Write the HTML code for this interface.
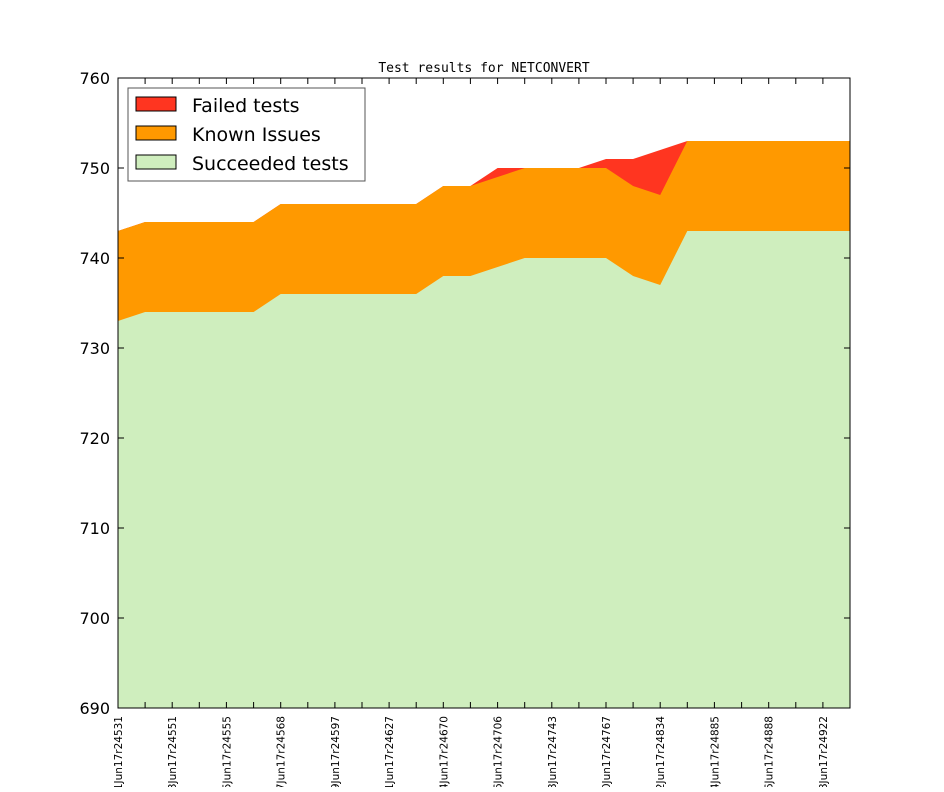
<!DOCTYPE html><html><head><style>body{margin:0;background:#fff}</style></head><body>
<svg width="944" height="787" xmlns="http://www.w3.org/2000/svg" font-family="DejaVu Sans, Liberation Sans, sans-serif">
<rect width="944" height="787" fill="#fff"/>
<polygon fill="#ff3520" points="118,645 118,231 145.1,222 172.2,222 199.3,222 226.4,222 253.6,222 280.7,204 307.8,204 334.9,204 362,204 389.1,204 416.2,204 443.3,186 470.4,186 497.6,168 524.7,168 551.8,168 578.9,168 606,159 633.1,159 660.2,150 687.3,141 850,141 850,708 118,708"/>
<polygon fill="#ff9900" points="118,231 145.1,222 172.2,222 199.3,222 226.4,222 253.6,222 280.7,204 307.8,204 334.9,204 362,204 389.1,204 416.2,204 443.3,186 470.4,186 497.6,177 524.7,168 551.8,168 578.9,168 606,168 633.1,186 660.2,195 687.3,141 850,141 850,708 118,708"/>
<polygon fill="#cfeebe" points="118,321 145.1,312 172.2,312 199.3,312 226.4,312 253.6,312 280.7,294 307.8,294 334.9,294 362,294 389.1,294 416.2,294 443.3,276 470.4,276 497.6,267 524.7,258 551.8,258 578.9,258 606,258 633.1,276 660.2,285 687.3,231 850,231 850,708 118,708"/>
<rect x="118" y="78" width="732" height="630" fill="none" stroke="#000" stroke-width="1"/>
<g stroke="#000" stroke-width="1">
<path d="M118,168h6M118,258h6M118,348h6M118,438h6M118,528h6M118,618h6M850,168h-6M850,258h-6M850,348h-6M850,438h-6M850,528h-6M850,618h-6"/>
<path d="M145.1,708v-6M172.2,708v-6M199.3,708v-6M226.4,708v-6M253.6,708v-6M280.7,708v-6M307.8,708v-6M334.9,708v-6M362,708v-6M389.1,708v-6M416.2,708v-6M443.3,708v-6M470.4,708v-6M497.6,708v-6M524.7,708v-6M551.8,708v-6M578.9,708v-6M606,708v-6M633.1,708v-6M660.2,708v-6M687.3,708v-6M714.4,708v-6M741.6,708v-6M768.7,708v-6M795.8,708v-6M822.9,708v-6M145.1,78v6M172.2,78v6M199.3,78v6M226.4,78v6M253.6,78v6M280.7,78v6M307.8,78v6M334.9,78v6M362,78v6M389.1,78v6M416.2,78v6M443.3,78v6M470.4,78v6M497.6,78v6M524.7,78v6M551.8,78v6M578.9,78v6M606,78v6M633.1,78v6M660.2,78v6M687.3,78v6M714.4,78v6M741.6,78v6M768.7,78v6M795.8,78v6M822.9,78v6"/>
</g>
<g font-size="16" text-anchor="end" fill="#000">
<text x="110" y="84">760</text><text x="110" y="174">750</text><text x="110" y="264">740</text><text x="110" y="354">730</text><text x="110" y="444">720</text><text x="110" y="534">710</text><text x="110" y="624">700</text><text x="110" y="714">690</text>
</g>
<text x="484" y="72" font-family="DejaVu Sans Mono, Liberation Mono, monospace" font-size="13" text-anchor="middle">Test results for NETCONVERT</text>
<g font-size="10.5" text-anchor="end">
<text transform="translate(122,716) rotate(-90)">01Jun17r24531</text>
<text transform="translate(176.2,716) rotate(-90)">03Jun17r24551</text>
<text transform="translate(230.4,716) rotate(-90)">05Jun17r24555</text>
<text transform="translate(284.7,716) rotate(-90)">07Jun17r24568</text>
<text transform="translate(338.9,716) rotate(-90)">09Jun17r24597</text>
<text transform="translate(393.1,716) rotate(-90)">11Jun17r24627</text>
<text transform="translate(447.3,716) rotate(-90)">14Jun17r24670</text>
<text transform="translate(501.6,716) rotate(-90)">16Jun17r24706</text>
<text transform="translate(555.8,716) rotate(-90)">18Jun17r24743</text>
<text transform="translate(610,716) rotate(-90)">20Jun17r24767</text>
<text transform="translate(664.2,716) rotate(-90)">22Jun17r24834</text>
<text transform="translate(718.5,716) rotate(-90)">24Jun17r24885</text>
<text transform="translate(772.7,716) rotate(-90)">26Jun17r24888</text>
<text transform="translate(826.9,716) rotate(-90)">28Jun17r24922</text>
</g>
<rect x="128" y="88" width="237" height="93" fill="#fff" stroke="#555"/>
<rect x="136" y="97" width="40" height="14" fill="#ff3520" stroke="#000"/>
<rect x="136" y="126" width="40" height="14" fill="#ff9900" stroke="#000"/>
<rect x="136" y="155" width="40" height="14" fill="#cfeebe" stroke="#000"/>
<g font-size="19"><text x="192" y="112">Failed tests</text><text x="192" y="141">Known Issues</text><text x="192" y="170">Succeeded tests</text></g>
</svg></body></html>
